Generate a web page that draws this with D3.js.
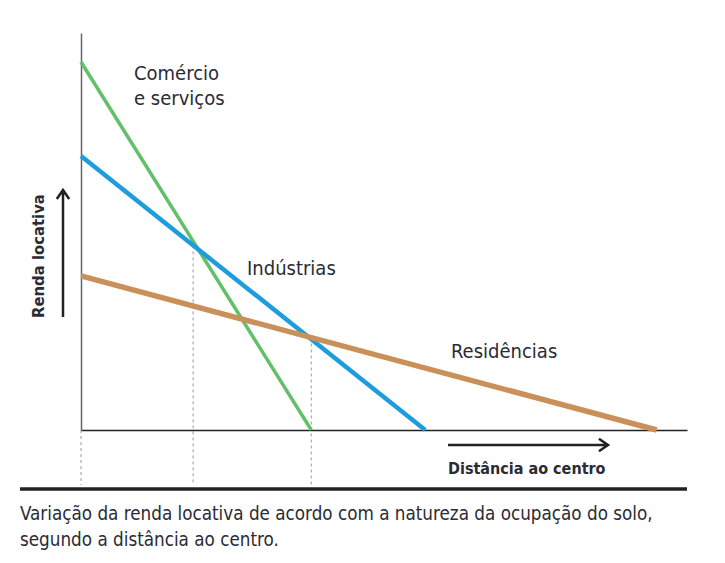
<!DOCTYPE html>
<html>
<head>
<meta charset="utf-8">
<script src="https://cdn.jsdelivr.net/npm/d3@7"></script>
<style>
  body { margin: 0; background: #fff; }
  text { font-family: "Liberation Sans Narrow", "DejaVu Sans Condensed", sans-serif; fill: #2b2b35; }
</style>
</head>
<body>
<svg id="chart"></svg>
<script>
// Land uses and their rent line: rent at the centre, distance where rent hits zero
let vUses = ["Comércio e serviços", "Indústrias", "Residências"];
let vRentAtCentre = [92.7, 69.0, 38.8];
let vZeroRentDistance = [38.0, 56.8, 95.0];
let vColors = ["#62bf6a", "#1d9ddd", "#c9905a"];

// dashed guides where the dominant use changes
let vMarkDistances = [0, 18.5, 38.0];
let vMarkRents = [0, 46.5, 23.3];

let vWidth = 725;
let vHeight = 563;

let svg = d3.select('#chart')
  .attr('width', vWidth)
  .attr('height', vHeight)

let x = d3.scaleLinear().domain([0, 100]).range([81, 687])
let y = d3.scaleLinear().domain([0, 100]).range([430, 33])

// dashed guides
svg.selectAll('line.guide')
  .data(vMarkDistances)
  .enter()
  .append('line')
  .attr('class', 'guide')
  .attr('x1', (d) => x(d))
  .attr('x2', (d) => x(d))
  .attr('y1', (d, i) => y(vMarkRents[i]))
  .attr('y2', 485)
  .style('stroke', '#9a9a9a')
  .style('stroke-width', 1)
  .style('stroke-dasharray', '3,3')

// axes (no ticks, just the lines)
svg.append('g')
  .attr('transform', `translate(0, ${y(0)})`)
  .call(d3.axisBottom(x).ticks(0).tickSizeOuter(0))
  .select('.domain')
  .style('stroke', '#222')
  .style('stroke-width', 1.5)

svg.append('g')
  .attr('transform', `translate(${x(0)}, 0)`)
  .call(d3.axisLeft(y).ticks(0).tickSizeOuter(0))
  .select('.domain')
  .style('stroke', '#666')
  .style('stroke-width', 1.5)

// rent lines
let vLine = d3.line()
  .x((d) => x(d[0]))
  .y((d) => y(d[1]))

let vWidths = [3.5, 4.5, 5.5];

svg.selectAll('path.rent')
  .data(vUses)
  .enter()
  .append('path')
  .attr('class', 'rent')
  .attr('d', (d, i) => vLine([[0, vRentAtCentre[i]], [vZeroRentDistance[i], 0]]))
  .style('fill', 'none')
  .style('stroke', (d, i) => vColors[i])
  .style('stroke-width', (d, i) => vWidths[i])

// labels
svg.append('text').attr('x', 134).attr('y', 80).style('font-size', '20px').text('Comércio')
svg.append('text').attr('x', 134).attr('y', 105).style('font-size', '20px').text('e serviços')
svg.append('text').attr('x', 247).attr('y', 275).style('font-size', '20px').text('Indústrias')
svg.append('text').attr('x', 451).attr('y', 358).style('font-size', '20px').text('Residências')

// axis arrows
let vArrow = (g, x1, y1, x2, y2) => {
  let a = Math.atan2(y2 - y1, x2 - x1)
  let h = 11
  g.append('path')
    .attr('d', `M${x1},${y1}L${x2},${y2}` +
      `M${x2 - h * Math.cos(a - 0.6)},${y2 - h * Math.sin(a - 0.6)}L${x2},${y2}` +
      `L${x2 - h * Math.cos(a + 0.6)},${y2 - h * Math.sin(a + 0.6)}`)
    .style('fill', 'none')
    .style('stroke', '#222')
    .style('stroke-width', 2.5)
}
vArrow(svg, 448, 445, 608, 445)
vArrow(svg, 63, 317, 63, 190)

svg.append('text')
  .attr('x', 448).attr('y', 474)
  .style('font-size', '16px').style('font-weight', 'bold')
  .text('Distância ao centro')

svg.append('text')
  .attr('transform', 'translate(44, 318) rotate(-90)')
  .style('font-size', '16.5px').style('font-weight', 'bold')
  .text('Renda locativa')

// bottom rule and caption
svg.append('line')
  .attr('x1', 20).attr('x2', 687)
  .attr('y1', 489).attr('y2', 489)
  .style('stroke', '#222')
  .style('stroke-width', 3.5)

svg.append('text').attr('x', 20).attr('y', 520).style('font-size', '18.7px')
  .text('Variação da renda locativa de acordo com a natureza da ocupação do solo,')
svg.append('text').attr('x', 20).attr('y', 546).style('font-size', '18.7px')
  .text('segundo a distância ao centro.')
</script>
</body>
</html>
